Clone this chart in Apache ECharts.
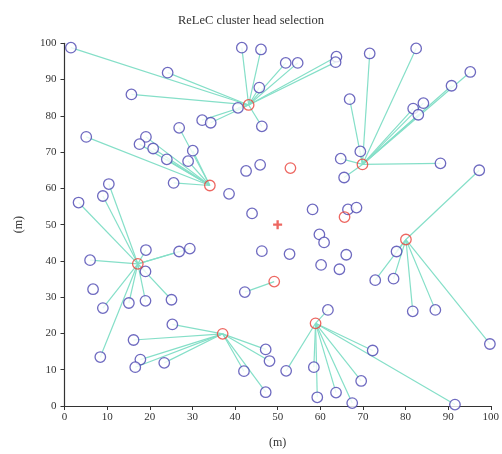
<!DOCTYPE html>
<html><head><meta charset="utf-8">
<script src="https://cdn.jsdelivr.net/npm/echarts@6/dist/echarts.min.js"></script>
<style>html,body{margin:0;padding:0;background:#fff}#c{width:502px;height:454px}</style>
</head><body><div id="c"></div>
<script>
const title = "ReLeC cluster head selection";
const xTicks = [0,10,20,30,40,50,60,70,80,90,100];
const yTicks = [0,10,20,30,40,50,60,70,80,90,100];
const baseStation = [[50,50]];
const heads = [[43.2,83.0],[34.1,60.8],[69.9,66.6],[17.2,39.2],[37.1,19.9],[58.9,22.8],[80.1,45.9],[49.2,34.3]];
const idleHeads = [[53.0,65.6],[65.7,52.1]];
const cluster1 = [[1.5,98.8],[24.2,91.9],[15.7,85.9],[41.6,98.8],[46.1,98.3],[45.7,87.8],[40.7,82.2],[46.3,77.1],[32.3,78.8],[34.3,78.1],[51.9,94.6],[54.7,94.6],[63.8,96.3],[63.6,94.8]];
const cluster2 = [[5.1,74.2],[19.1,74.2],[17.6,72.2],[20.8,71.0],[26.9,76.7],[30.1,70.4],[24.0,68.0],[29.0,67.5],[25.6,61.5]];
const cluster3 = [[71.6,97.2],[82.5,98.6],[95.2,92.1],[90.8,88.3],[84.2,83.5],[81.8,82.0],[83.0,80.3],[66.9,84.6],[69.4,70.2],[64.8,68.2],[65.6,63.0],[88.2,66.9]];
const cluster4 = [[3.3,56.1],[9.0,57.9],[10.4,61.2],[6.0,40.2],[19.1,43.0],[26.9,42.6],[29.4,43.4],[19.0,37.1],[9.0,27.0],[15.1,28.4],[19.0,29.0],[25.1,29.3],[8.4,13.5]];
const cluster5 = [[25.3,22.5],[16.2,18.2],[17.8,12.8],[16.6,10.7],[23.4,11.9],[47.2,15.6],[48.1,12.4],[42.1,9.6],[47.2,3.8]];
const cluster6 = [[61.8,26.5],[52.0,9.7],[58.5,10.7],[59.3,2.4],[63.7,3.7],[67.5,0.8],[69.6,6.9],[72.3,15.3],[91.6,0.4]];
const cluster7 = [[77.9,42.6],[72.9,34.7],[77.2,35.1],[81.7,26.1],[87.0,26.5],[99.8,17.1],[97.3,65.0]];
const cluster8 = [[42.3,31.4]];
const unclustered = [[38.6,58.5],[42.6,64.8],[45.9,66.5],[44.0,53.1],[58.2,54.2],[66.5,54.2],[68.5,54.7],[59.8,47.3],[60.9,45.1],[46.3,42.7],[52.8,41.9],[66.1,41.7],[60.2,38.9],[64.5,37.7],[6.7,32.2]];

const clusters = [cluster1,cluster2,cluster3,cluster4,cluster5,cluster6,cluster7,cluster8];
const links = [];
clusters.forEach((c,i)=>c.forEach(p=>links.push({coords:[p,heads[i]]})));
const allNodes = [].concat(...clusters, unclustered);

const font = '"Liberation Serif", "DejaVu Serif", serif';
const chart = echarts.init(document.getElementById('c'));
chart.setOption({
  animation:false,
  title:{text:title,left:'center',top:9,textStyle:{fontFamily:font,fontSize:12.5,fontWeight:'normal',color:'#333'}},
  grid:{left:64.5,right:4.5,top:43.3,bottom:46.7},
  xAxis:{type:'value',min:0,max:100,interval:10,name:'(m)',nameLocation:'middle',nameGap:31,
    nameTextStyle:{fontFamily:font,fontSize:12,color:'#333'},
    axisLine:{lineStyle:{color:'#333',width:1.2}},axisTick:{length:4,lineStyle:{color:'#333'}},
    axisLabel:{fontFamily:font,fontSize:11,color:'#333',margin:6},splitLine:{show:false}},
  yAxis:{type:'value',min:0,max:100,interval:10,name:'(m)',nameLocation:'middle',nameGap:40,
    nameTextStyle:{fontFamily:font,fontSize:12,color:'#333'},
    axisLine:{show:true,lineStyle:{color:'#333',width:1.2}},axisTick:{show:true,length:4,lineStyle:{color:'#333'}},
    axisLabel:{fontFamily:font,fontSize:11,color:'#333',margin:8},splitLine:{show:false}},
  series:[
    {type:'lines',coordinateSystem:'cartesian2d',data:links,silent:true,
     lineStyle:{color:'#85dfc8',width:1.2,opacity:1},z:1},
    {type:'scatter',data:allNodes,symbol:'circle',symbolSize:10.5,clip:false,
     itemStyle:{color:'#fff',borderColor:'#4a45b0',borderWidth:1.3},z:3},
    {type:'scatter',data:heads.concat(idleHeads),symbol:'circle',symbolSize:10.5,clip:false,
     itemStyle:{color:'rgba(255,255,255,0)',borderColor:'#e8413a',borderWidth:1.3},z:4},
    {type:'scatter',data:baseStation,symbol:'path://M-1.3,-5 L1.3,-5 L1.3,-1.3 L5,-1.3 L5,1.3 L1.3,1.3 L1.3,5 L-1.3,5 L-1.3,1.3 L-5,1.3 L-5,-1.3 L-1.3,-1.3 Z',symbolSize:9,
     itemStyle:{color:'#e8413a'},z:5}
  ]
});
</script></body></html>
